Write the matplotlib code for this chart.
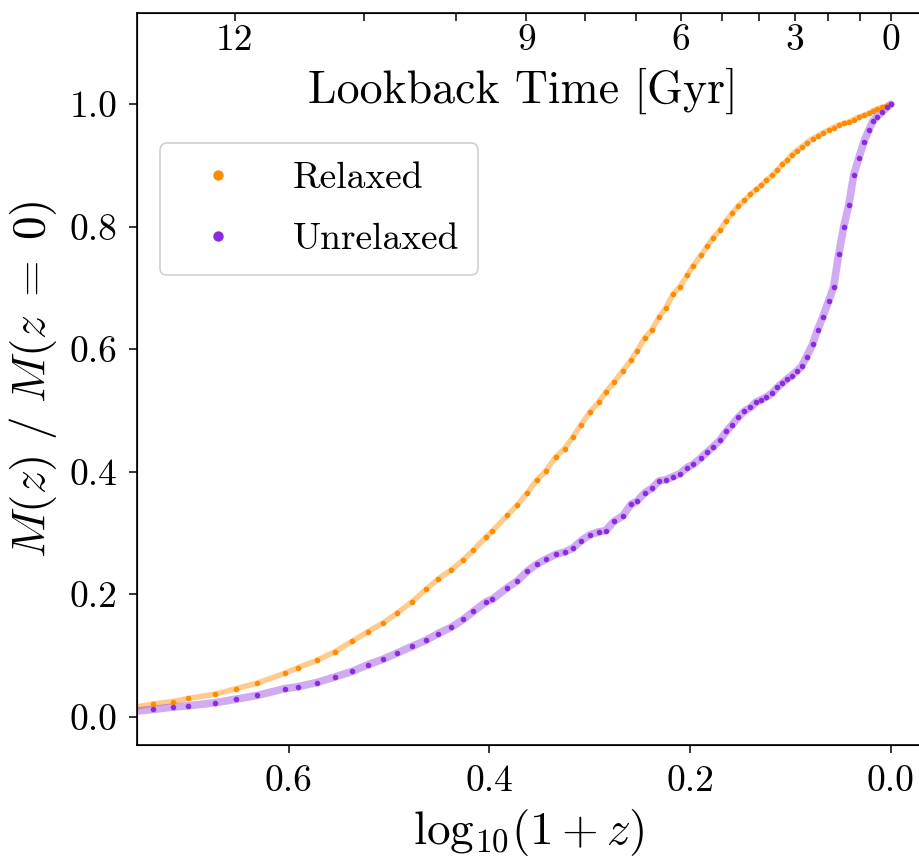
import numpy as np
import matplotlib
matplotlib.use("Agg")
import matplotlib.pyplot as plt
from matplotlib.lines import Line2D

plt.rcParams['font.family'] = 'serif'
plt.rcParams['font.serif'] = ['cmr10']
plt.rcParams['mathtext.fontset'] = 'cm'
plt.rcParams['axes.unicode_minus'] = False
plt.rcParams['axes.formatter.use_mathtext'] = True

# ---------------- data ----------------
log1pz = [0.755, 0.735, 0.715, 0.700, 0.673, 0.652, 0.631, 0.604, 0.591, 0.572,
          0.554, 0.537, 0.521, 0.506, 0.492, 0.477, 0.463, 0.451, 0.438, 0.426,
          0.416, 0.403, 0.397, 0.382, 0.372, 0.362, 0.353, 0.344, 0.334, 0.325,
          0.317, 0.309, 0.300, 0.291, 0.284, 0.276, 0.267, 0.259, 0.253, 0.245,
          0.238, 0.231, 0.224, 0.217, 0.210, 0.203, 0.197, 0.189, 0.183, 0.177,
          0.170, 0.164, 0.158, 0.152, 0.146, 0.140, 0.134, 0.129, 0.124, 0.118,
          0.113, 0.108, 0.103, 0.099, 0.094, 0.089, 0.084, 0.078, 0.073, 0.068,
          0.062, 0.057, 0.052, 0.047, 0.042, 0.037, 0.032, 0.027, 0.022, 0.018,
          0.014, 0.009, 0.004, 0.000]

relaxed = [0.015, 0.021, 0.025, 0.030, 0.037, 0.046, 0.055, 0.071, 0.080, 0.092,
           0.106, 0.123, 0.139, 0.153, 0.169, 0.188, 0.208, 0.225, 0.240, 0.256,
           0.272, 0.294, 0.303, 0.329, 0.346, 0.366, 0.386, 0.401, 0.424, 0.438,
           0.456, 0.476, 0.497, 0.514, 0.530, 0.546, 0.565, 0.582, 0.597, 0.619,
           0.632, 0.652, 0.668, 0.690, 0.702, 0.721, 0.736, 0.754, 0.768, 0.782,
           0.795, 0.810, 0.822, 0.834, 0.843, 0.853, 0.861, 0.868, 0.876, 0.884,
           0.893, 0.902, 0.909, 0.917, 0.924, 0.930, 0.937, 0.944, 0.948, 0.953,
           0.958, 0.962, 0.966, 0.969, 0.971, 0.975, 0.979, 0.982, 0.985, 0.989,
           0.992, 0.995, 0.997, 1.000]

unrelaxed = [0.009, 0.012, 0.016, 0.018, 0.023, 0.029, 0.035, 0.046, 0.049, 0.056,
             0.065, 0.074, 0.085, 0.094, 0.104, 0.115, 0.125, 0.136, 0.146, 0.159,
             0.172, 0.188, 0.192, 0.211, 0.222, 0.238, 0.249, 0.257, 0.265, 0.269,
             0.275, 0.287, 0.297, 0.302, 0.304, 0.319, 0.328, 0.347, 0.352, 0.366,
             0.373, 0.385, 0.387, 0.392, 0.397, 0.407, 0.412, 0.423, 0.432, 0.441,
             0.452, 0.466, 0.477, 0.489, 0.499, 0.505, 0.514, 0.518, 0.522, 0.529,
             0.538, 0.545, 0.552, 0.557, 0.564, 0.572, 0.588, 0.608, 0.632, 0.652,
             0.679, 0.702, 0.755, 0.800, 0.835, 0.885, 0.912, 0.938, 0.958, 0.972,
             0.980, 0.987, 0.995, 1.000]

series_labels = ['Relaxed', 'Unrelaxed']
series_colors = ['#ff8c00', '#8a2be2']

x_ticks = [0.6, 0.4, 0.2, 0.0]
y_ticks = [0.0, 0.2, 0.4, 0.6, 0.8, 1.0]
lookback_major = [12, 9, 6, 3, 0]
lookback_minor = [11, 10, 8, 7, 5, 4, 2, 1]

# ---------------- cosmology for top axis ----------------
H0, Om = 67.74, 0.3089
tH = 977.792 / H0
zz = np.linspace(0, 20, 40001)
E = np.sqrt(Om * (1 + zz) ** 3 + (1 - Om))
f = 1.0 / ((1 + zz) * E)
tl = np.concatenate([[0], np.cumsum(0.5 * (f[1:] + f[:-1]) * np.diff(zz))]) * tH


def t_to_x(t):
    return np.log10(1 + np.interp(t, tl, zz))


# ---------------- figure ----------------
W, Hh = 919, 859
fig = plt.figure(figsize=(W / 100, Hh / 100), dpi=100)
L, R, T, B = 137, 921, 13, 745
ax = fig.add_axes([L / W, 1 - B / Hh, (R - L) / W, (B - T) / Hh])

for y, c, lw, a in [(relaxed, series_colors[0], 4.0, 0.45),
                    (unrelaxed, series_colors[1], 5.5, 0.4)]:
    ax.plot(log1pz, y, color=c, lw=lw, alpha=a, solid_capstyle='round', zorder=2)
    ax.plot(log1pz, y, 'o', color=c, ms=4.0, mew=0, zorder=3)

ax.set_xlim(0.751, -0.030)
ax.set_ylim(-0.046, 1.149)
ax.set_xticks(x_ticks)
ax.set_xticklabels([f'{v:.1f}' for v in x_ticks])
ax.set_yticks(y_ticks)
ax.set_yticklabels([f'{v:.1f}' for v in y_ticks])
ax.tick_params(axis='both', which='major', direction='out', length=6, width=1.1,
               labelsize=27, pad=8, top=False, right=False)
for s in ax.spines.values():
    s.set_linewidth(1.2)

ax.set_xlabel(r'$\log_{10}\!(1+z)$', fontsize=34, labelpad=7)
ax.set_ylabel(r'$M(z)\ /\ M(z\;=\;0)$', fontsize=34, labelpad=8)

ax2 = ax.twiny()
ax2.set_xlim(ax.get_xlim())
ax2.set_xticks([float(t_to_x(t)) for t in lookback_major])
ax2.set_xticklabels([str(t) for t in lookback_major])
ax2.set_xticks([float(t_to_x(t)) for t in lookback_minor], minor=True)
ax2.tick_params(axis='x', which='both', direction='in', length=6, width=1.1,
                labelsize=27, pad=-32)
ax.text(0.492, 0.893, 'Lookback Time [Gyr]', transform=ax.transAxes,
        ha='center', va='center', fontsize=33)

handles = [Line2D([], [], ls='none', marker='o', ms=7.5, mew=0, color=c)
           for c in series_colors]
leg = ax.legend(handles, series_labels, loc='upper left',
                bbox_to_anchor=(0.029, 0.822), borderaxespad=0,
                fontsize=27, handlelength=2.1, handletextpad=0.95,
                borderpad=0.5, labelspacing=0.74, fancybox=True, framealpha=1)
leg.get_frame().set_edgecolor('#d0d0d0')
leg.get_frame().set_linewidth(1.2)

fig.savefig('out.png', dpi=100)
